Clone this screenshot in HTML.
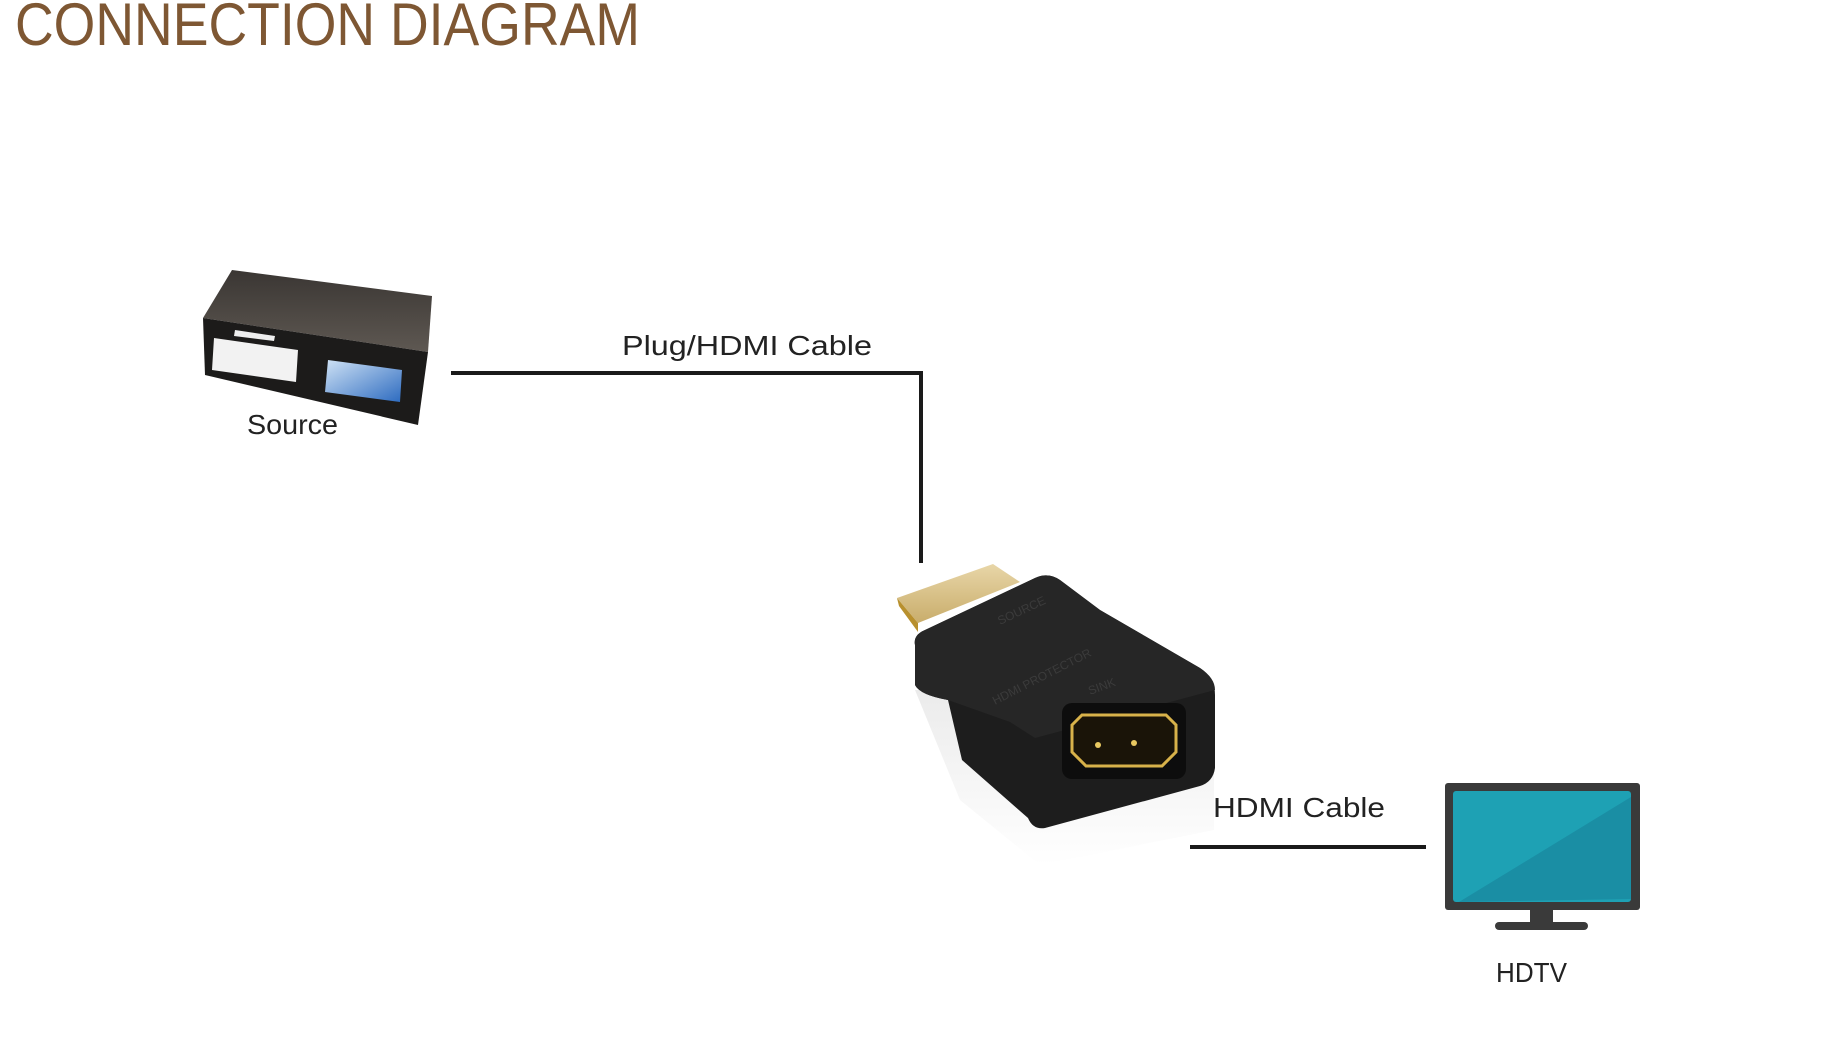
<!DOCTYPE html>
<html><head><meta charset="utf-8"><style>
html,body{margin:0;padding:0;background:#fff;width:1846px;height:1049px;overflow:hidden}
svg{display:block}
text{font-family:"Liberation Sans",sans-serif}
</style></head><body>
<svg width="1846" height="1049" viewBox="0 0 1846 1049" xmlns="http://www.w3.org/2000/svg">
<defs>
<linearGradient id="top" x1="0" y1="0" x2="0" y2="1"><stop offset="0" stop-color="#3a3633"/><stop offset="1" stop-color="#5e5852"/></linearGradient>
<linearGradient id="gold" x1="0" y1="0" x2="0" y2="1"><stop offset="0" stop-color="#e8d6a8"/><stop offset="1" stop-color="#c9ad6b"/></linearGradient>
<linearGradient id="disc" x1="0" y1="0" x2="1" y2="1"><stop offset="0" stop-color="#cfe2f5"/><stop offset="1" stop-color="#2d6bc0"/></linearGradient>
<linearGradient id="refl" x1="0" y1="0" x2="0" y2="1"><stop offset="0" stop-color="#e6e6e6"/><stop offset="1" stop-color="#fff"/></linearGradient>
</defs>

<text x="15" y="45" font-size="60" fill="#7e5733" textLength="625" lengthAdjust="spacingAndGlyphs">CONNECTION DIAGRAM</text>

<!-- Source device -->
<polygon points="232,270 432,296 428,352 203,318" fill="url(#top)"/>
<polygon points="203,318 428,352 418,425 205,375" fill="#1c1b1a"/>
<polygon points="214,338 298,350 296,382 212,370" fill="#f2f2f2"/>
<polygon points="235,330 275,336 274,341 234,336" fill="#eee"/>
<polygon points="328,360 402,370 400,402 325,392" fill="url(#disc)"/>
<text x="247" y="434" font-size="28" fill="#222" textLength="91" lengthAdjust="spacingAndGlyphs">Source</text>

<!-- Line 1 -->
<polyline points="451,373 921,373 921,563" fill="none" stroke="#1a1a1a" stroke-width="4"/>
<text x="622" y="355" font-size="28" fill="#222" textLength="250" lengthAdjust="spacingAndGlyphs">Plug/HDMI Cable</text>

<!-- Adapter reflection -->
<polygon points="915,690 1214,690 1214,830 1040,865 960,800" fill="url(#refl)" opacity="0.8"/>
<!-- gold plug -->
<polygon points="897,598 993,564 1020,582 918,623" fill="url(#gold)"/>
<polygon points="897,598 918,623 918,632 899,606" fill="#b8902e"/>
<!-- body -->
<path d="M915,645 Q913,635 925,630 L1035,578 Q1048,572 1060,580 L1100,610 L1200,668 Q1215,678 1215,695 L1215,768 Q1213,782 1200,786 L1045,828 Q1033,830 1028,818 L962,760 L948,700 Q920,695 915,685 Z" fill="#1d1d1d"/>
<path d="M915,645 Q913,635 925,630 L1035,578 Q1048,572 1060,580 L1100,610 L1200,668 Q1215,678 1215,690 L1035,738 L1010,722 L948,700 Q920,695 915,685 Z" fill="#262626"/>
<rect x="1062" y="703" width="124" height="76" rx="10" fill="#0d0d0d"/>
<path d="M1072,725 L1082,715 L1166,715 L1176,725 L1176,752 L1162,766 L1086,766 L1072,752 Z" fill="#1a1408" stroke="#d8b24a" stroke-width="3"/>
<circle cx="1098" cy="745" r="3" fill="#e8c860"/><circle cx="1134" cy="743" r="3" fill="#e8c860"/>
<text x="1000" y="625" font-size="12" fill="#3b3b3b" transform="rotate(-25 1000 625)">SOURCE</text>
<text x="995" y="705" font-size="12" fill="#3b3b3b" transform="rotate(-27 995 705)">HDMI PROTECTOR</text>
<text x="1090" y="695" font-size="12" fill="#3b3b3b" transform="rotate(-20 1090 695)">SINK</text>

<!-- Line 2 -->
<line x1="1190" y1="847" x2="1426" y2="847" stroke="#1a1a1a" stroke-width="4"/>
<text x="1213" y="817" font-size="28" fill="#222" textLength="172" lengthAdjust="spacingAndGlyphs">HDMI Cable</text>

<!-- TV -->
<rect x="1445" y="783" width="195" height="127" rx="3" fill="#3a3a3a"/>
<rect x="1453" y="791" width="178" height="111" rx="3" fill="#1ea1b4"/>
<polygon points="1631,797 1631,899 1459,902" fill="#1a8ea4"/>
<rect x="1530" y="908" width="23" height="16" fill="#3a3a3a"/>
<rect x="1495" y="922" width="93" height="8" rx="4" fill="#3a3a3a"/>
<text x="1496" y="982" font-size="28" fill="#222" textLength="71" lengthAdjust="spacingAndGlyphs">HDTV</text>
</svg>
</body></html>
